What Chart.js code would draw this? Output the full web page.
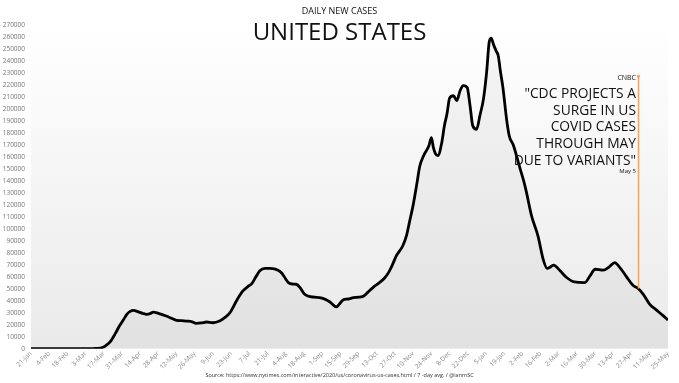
<!DOCTYPE html>
<html><head><meta charset="utf-8">
<script src="https://cdn.jsdelivr.net/npm/chart.js@4/dist/chart.umd.min.js"></script>
<style>
html,body{margin:0;padding:0;background:#fff;}
#wrap{position:relative;width:679px;height:383px;overflow:hidden;}
canvas{position:absolute;left:0;top:0;}
.t{position:absolute;left:0;width:679px;text-align:center;font-family:"Open Sans",sans-serif;color:#111;line-height:1;white-space:nowrap;}
</style></head><body>
<div id="wrap">
<canvas id="c" width="679" height="383"></canvas>
<div class="t" style="top:6.4px;font-size:9px;">DAILY NEW CASES</div>
<div class="t" style="top:18.7px;font-size:24px;">UNITED STATES</div>
<div class="t" style="top:372.5px;font-size:5.5px;color:#333;">Source: https://www.nytimes.com/interactive/2020/us/coronavirus-us-cases.html / 7 -day avg. / @ianmSC</div>
</div>
<script>
// Day index counted from 21-Jan-2020
const days = [0,14,28,42,50,55,58,61,65,68,71,74,76,79,82,86,89,92,94,98,104,108,112,116,120,124,127,131,135,140,145,149,153,158,163,167,170,173,176,180,183,186,190,193,196,198,201,204,207,210,213,218,222,225,230,235,237,240,244,248,252,256,259,263,268,272,275,278,281,286,289,291,294,297,299,302,306,308,309.5,311,313,316,318,320,322,325,327.5,330,332.5,335.5,337.7,339.8,342.8,345.4,348,350.5,352.5,354,356,358,359.5,361,363,366,368,371,376,379,381,385,390,394,397,400,402,407,412,418,426,430,434,440,445,449,453,458,463,467,471,476,481,486,490];
const cases = [0,0,10,100,300,1000,3000,6000,13000,19000,24000,29000,31000,32000,31000,29500,28700,29500,30600,29500,27300,25500,23700,23500,23100,22500,21200,21500,22300,21700,23100,26000,30000,39900,48200,52000,54600,60000,65000,67100,67000,66900,65500,63000,58000,55200,54000,53800,51000,46000,44000,43000,42600,41800,39000,34900,37000,40700,41500,42600,43000,44000,47000,51000,55200,59000,63500,70000,77500,85900,95000,105000,120000,138800,152000,161000,169000,176000,168000,163000,161000,172000,186000,196000,209000,211000,207000,215000,219500,218000,203000,186000,183000,195000,208000,231000,256000,259000,253000,248000,244000,232000,218000,190000,177000,170000,151000,140000,131000,111000,94000,74600,67100,68500,69700,65000,59400,55700,55200,60800,66300,65500,68500,71900,67700,60200,52900,50200,45400,37000,32400,27800,24000];
const tickLabels = ['21-Jan','4-Feb','18-Feb','3-Mar','17-Mar','31-Mar','14-Apr','28-Apr','12-May','26-May','9-Jun','23-Jun','7-Jul','21-Jul','4-Aug','18-Aug','1-Sep','15-Sep','29-Sep','13-Oct','27-Oct','10-Nov','24-Nov','8-Dec','22-Dec','5-Jan','19-Jan','2-Feb','16-Feb','2-Mar','16-Mar','30-Mar','13-Apr','27-Apr','11-May','25-May'];
const annDay = 467.3;
const annTop = 228000;
const annValue = 50200;
const annSource = 'CNBC';
const annLines = ['"CDC PROJECTS A','SURGE IN US','COVID CASES','THROUGH MAY','DUE TO VARIANTS"'];
const annDate = 'May 5';

const points = days.map((d, i) => ({x: d, y: cases[i]}));

const bgPlugin = {
  id: 'bg',
  beforeDatasetsDraw(chart) {
    const {ctx, chartArea: a} = chart;
    const g = ctx.createLinearGradient(0, a.top, 0, a.bottom);
    g.addColorStop(0, '#ffffff');
    g.addColorStop(1, '#eaeaea');
    ctx.save();
    ctx.fillStyle = g;
    ctx.fillRect(a.left, a.top, a.right - a.left, a.bottom - a.top);
    ctx.restore();
  }
};

const annPlugin = {
  id: 'ann',
  afterDatasetsDraw(chart) {
    const {ctx, scales: {x, y}} = chart;
    const px = x.getPixelForValue(annDay);
    const yt = y.getPixelForValue(annTop);
    const yb = y.getPixelForValue(annValue);
    ctx.save();
    ctx.strokeStyle = '#f2a26a';
    ctx.lineWidth = 1.5;
    ctx.beginPath();
    ctx.moveTo(px, yt);
    ctx.lineTo(px, yb);
    ctx.stroke();
    ctx.fillStyle = '#f2a26a';
    ctx.beginPath();
    ctx.arc(px, yt + 1, 1.6, 0, Math.PI * 2);
    ctx.fill();
    const tx = px - 2.5;
    ctx.fillStyle = '#111';
    ctx.textAlign = 'right';
    ctx.textBaseline = 'middle';
    ctx.font = '7px "Open Sans", sans-serif';
    ctx.fillText(annSource, tx, yt + 2.5);
    ctx.font = '13.8px "Open Sans", sans-serif';
    annLines.forEach((l, i) => ctx.fillText(l, tx, yt + 19 + i * 16.6));
    ctx.font = '6px "Open Sans", sans-serif';
    ctx.fillText(annDate, tx, yt + 96);
    ctx.restore();
  }
};

new Chart(document.getElementById('c'), {
  type: 'line',
  data: {
    datasets: [{
      data: points,
      borderColor: '#000',
      borderWidth: 2.8,
      pointRadius: 0,
      fill: 'origin',
      backgroundColor: 'rgba(0,0,0,0.035)',
      cubicInterpolationMode: 'monotone',
      borderJoinStyle: 'round'
    }]
  },
  options: {
    responsive: false,
    animation: false,
    layout: {padding: {left: 0, right: 11, top: 25, bottom: 11}},
    plugins: {legend: {display: false}, tooltip: {enabled: false}},
    scales: {
      x: {
        type: 'linear', min: 0, max: 490,
        grid: {display: false, drawTicks: false},
        border: {display: false},
        ticks: {
          stepSize: 14, autoSkip: false, maxRotation: 45, minRotation: 45, padding: 1,
          color: '#888', font: {family: '"Open Sans", sans-serif', size: 6.5},
          callback: v => tickLabels[Math.round(v / 14)]
        }
      },
      y: {
        min: 0, max: 270000,
        grid: {display: false, drawTicks: false},
        border: {display: false},
        afterFit: s => { s.width = 31; },
        ticks: {
          stepSize: 10000, autoSkip: false, padding: 6,
          color: '#777', font: {family: '"Open Sans", sans-serif', size: 6.5},
          callback: v => String(v)
        }
      }
    }
  },
  plugins: [bgPlugin, annPlugin]
});
</script>
</body></html>
